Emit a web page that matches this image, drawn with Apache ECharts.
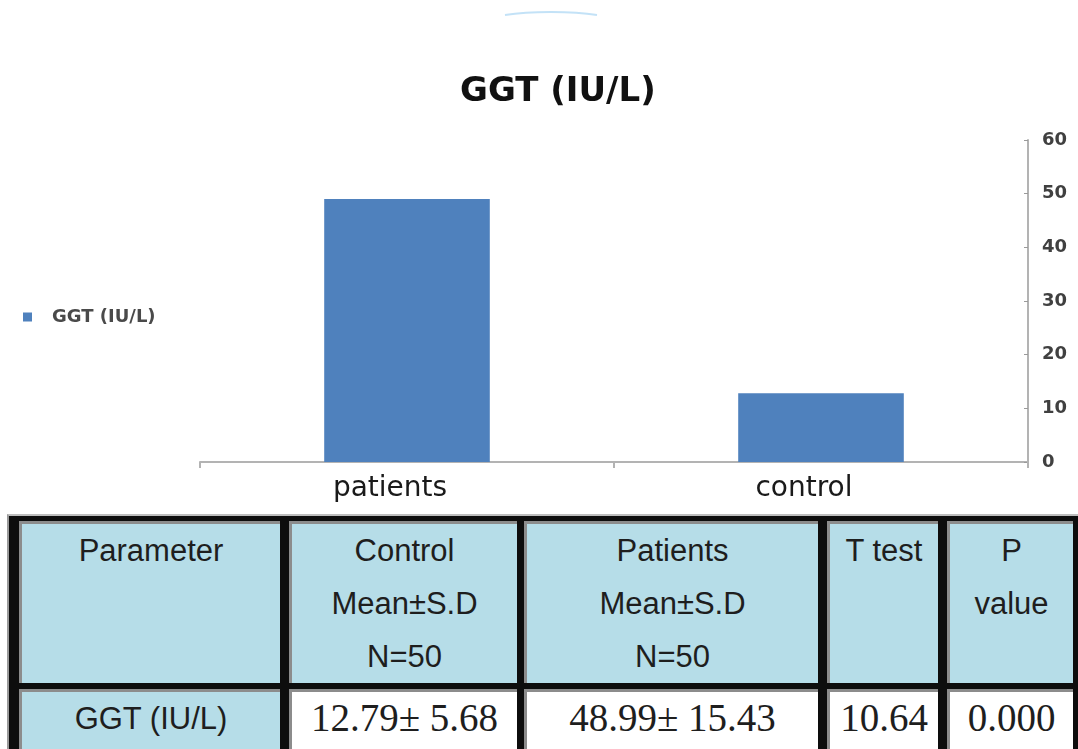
<!DOCTYPE html>
<html>
<head>
<meta charset="utf-8">
<script src="https://cdn.jsdelivr.net/npm/echarts@6/dist/echarts.min.js"></script>
<style>
  html, body { margin: 0; padding: 0; background: #fff; }
  #chart { position: absolute; left: 0; top: 0; width: 1078px; height: 749px; }
  #table { position: absolute; left: 7px; top: 514px; width: 1071px; height: 235px;
           background: #0d0d0d; border-top: 2px solid #bdbdbd; border-left: 2px solid #9a9a9a;
           box-sizing: border-box; overflow: hidden; }
  .cell { position: absolute; box-sizing: border-box; border-left: 3px solid #8c8c8c;
          border-top: 3px solid #8c8c8c; text-align: center; color: #1e1e1e; }
  .head { font-family: "Liberation Sans", Arial, sans-serif; font-size: 31px; line-height: 53px; }
  .num { font-family: "Liberation Serif", "Times New Roman", serif; font-size: 39px; line-height: 52px; }
</style>
</head>
<body>
<div id="chart"></div>
<div id="table"></div>
<script>
// chart data
const categories = ["patients", "control"];
const ggtValues = [48.99, 12.79];
const seriesName = "GGT (IU/L)";
const yMax = 60;
const yStep = 10;

// table data
const tableHeader = [
  ["Parameter"],
  ["Control", "Mean±S.D", "N=50"],
  ["Patients", "Mean±S.D", "N=50"],
  ["T test"],
  ["P", "value"],
];
const tableRow = ["GGT (IU/L)", "12.79± 5.68", "48.99± 15.43", "10.64", "0.000"];

// cell fill edges (page px)
const colEdges = [[22, 280], [292, 517], [527, 818], [830, 938], [950, 1073]];
const rowEdges = [[524, 683], [692, 760]];

const myChart = echarts.init(document.getElementById("chart"));

const option = {
  animation: false,
  title: {
    text: seriesName,
    left: 455,
    top: 70,
    textStyle: { fontFamily: "DejaVu Sans", fontWeight: "bold", fontSize: 34, color: "#111" },
  },
  legend: {
    left: 18,
    top: 303,
    orient: "vertical",
    itemWidth: 9,
    itemHeight: 9,
    icon: "rect",
    textStyle: { fontFamily: "DejaVu Sans", fontWeight: "bold", fontSize: 18, color: "#4a4a4a", padding: [0, 0, 0, 15] },
    data: [seriesName],
  },
  grid: { left: 200, right: 50, top: 140, bottom: 287 },
  xAxis: {
    type: "category",
    data: categories,
    axisLine: { lineStyle: { color: "#b3b3b3", width: 2 } },
    axisTick: { show: true, length: 6, lineStyle: { color: "#b3b3b3", width: 2 } },
    axisLabel: {
      margin: 13, fontFamily: "DejaVu Sans", fontSize: 28, color: "#1a1a1a",
      padding: [0, 34, 0, 0],
    },
  },
  yAxis: {
    type: "value",
    position: "right",
    min: 0,
    max: yMax,
    interval: yStep,
    splitLine: { show: false },
    axisLine: { show: true, lineStyle: { color: "#b3b3b3", width: 2 } },
    axisTick: { show: true, inside: true, length: 4, lineStyle: { color: "#9a9a9a", width: 1 } },
    axisLabel: { margin: 14, fontFamily: "DejaVu Sans", fontWeight: "bold", fontSize: 18, color: "#404040" },
  },
  series: [
    {
      name: seriesName,
      type: "bar",
      data: ggtValues,
      barWidth: "40%",
      itemStyle: { color: "#4f81bd" },
    },
  ],
  graphic: [
    {
      type: "bezierCurve",
      shape: { x1: 505, y1: 15, x2: 597, y2: 15, cpx1: 530, cpy1: 11, cpx2: 572, cpy2: 11 },
      style: { stroke: "#c3e2f7", lineWidth: 2, fill: null },
    },
  ],
};

myChart.setOption(option);

// build the table under the chart
const tableEl = document.getElementById("table");
const offX = 7 + 2, offY = 514 + 2;
function addCell(col, row, lines, cls, bg) {
  const d = document.createElement("div");
  d.className = "cell " + cls;
  const [x0, x1] = colEdges[col];
  const [y0, y1] = rowEdges[row];
  d.style.left = (x0 - 3 - offX) + "px";
  d.style.top = (y0 - 3 - offY) + "px";
  d.style.width = (x1 - x0 + 3) + "px";
  d.style.height = (y1 - y0 + 3) + "px";
  d.style.background = bg;
  d.innerHTML = lines.join("<br>");
  tableEl.appendChild(d);
}
tableHeader.forEach((lines, i) => addCell(i, 0, lines, "head", "#b6dde8"));
tableRow.forEach((txt, i) => {
  if (i === 0) addCell(i, 1, [txt], "head", "#b6dde8");
  else addCell(i, 1, [txt], "num", "#fff");
});
</script>
</body>
</html>
